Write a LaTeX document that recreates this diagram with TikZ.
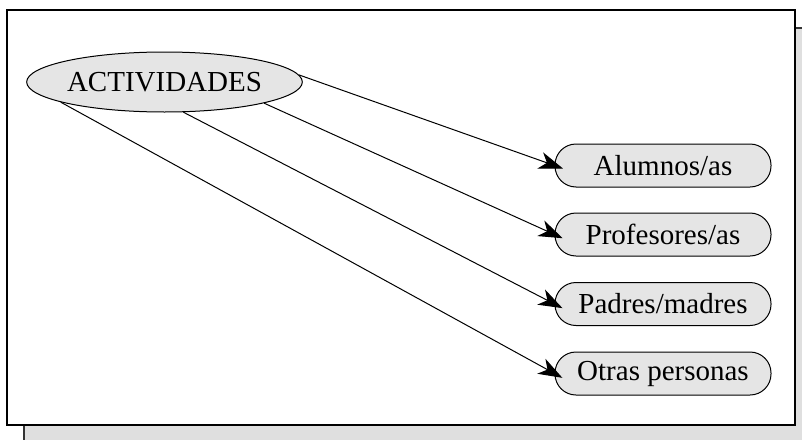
\documentclass[tikz,border=0pt]{standalone}
\usepackage{fontspec}
\setmainfont{Liberation Serif}
\usetikzlibrary{arrows.meta,shapes.geometric}

\begin{document}
\begin{tikzpicture}
[x=.5pt,y=-.5pt,
 tema/.style={ellipse,draw,fill=gray!20,line width=.5pt,minimum width=137.5pt,minimum height=30pt,inner sep=0pt,font=\fontsize{14.5}{17}\selectfont},
 grupo/.style={draw,fill=gray!20,line width=.5pt,rounded corners=10.5pt,minimum width=108pt,minimum height=21.5pt,inner sep=0pt,font=\fontsize{14.5}{17}\selectfont},
 flecha/.style={line width=.5pt,-{Stealth[length=12pt,width=8.5pt,inset=3.5pt]},shorten >=-4.5pt}]
\useasboundingbox (0,0) rectangle (802,439);
\begin{scope}
\clip (0,0) rectangle (802,439);
\draw[fill=gray!25,draw=black!80,line width=.8pt] (24,28) rectangle (840,470);
\end{scope}
\draw[fill=white,line width=.8pt] (7,10) rectangle (795,425);

\node[tema] (v1) at (164.5,82) {ACTIVIDADES};

\node[grupo] (v2) at (663,165.5) {Alumnos/as};
\node[grupo] (v3) at (663,234.5) {Profesores/as};
\node[grupo] (v4) at (663,304) {Padres/madres};
\node[grupo] (v5) at (663,373.5) {Otras personas};

\foreach \from/\to in {v1.3/v2,v1.-12/v3,v1.-58/v4,v1.191.7/v5}
\draw[flecha] (\from) -- (\to.west);
\end{tikzpicture}
\end{document}
